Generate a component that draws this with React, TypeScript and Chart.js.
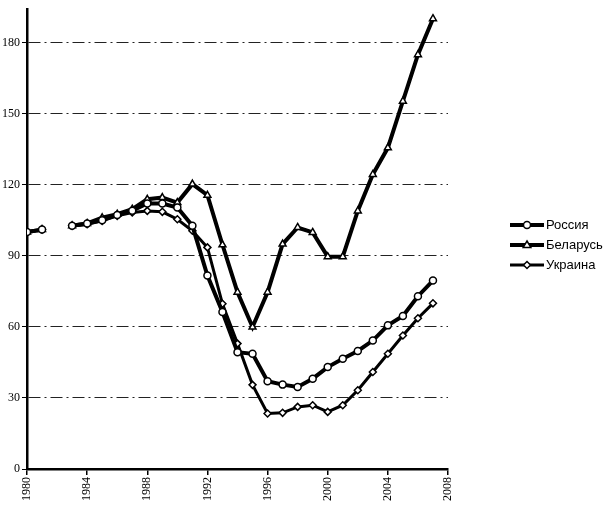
import React, { useEffect, useRef } from "react";
import { Chart, registerables } from "chart.js";

Chart.register(...registerables);

const years = [1980, 1981, 1982, 1983, 1984, 1985, 1986, 1987, 1988, 1989, 1990, 1991, 1992, 1993, 1994, 1995, 1996, 1997, 1998, 1999, 2000, 2001, 2002, 2003, 2004, 2005, 2006, 2007];

const russia: (number | null)[] = [100, 101, null, 102.6, 103.6, 105, 107.2, 109, 112, 112, 110.3, 102.6, 81.6, 66.2, 49.3, 48.6, 37, 35.6, 34.6, 38.1, 43, 46.5, 49.8, 54.2, 60.6, 64.6, 72.9, 79.5];
const belarus: (number | null)[] = [100, 101, null, 102.6, 103.6, 106, 107.5, 109.6, 113.8, 114.5, 112.4, 120.2, 115.5, 94.6, 74.6, 59.9, 74.6, 94.9, 101.9, 99.8, 89.6, 89.6, 108.9, 124.3, 135.5, 155.2, 174.8, 190];
const ukraine: (number | null)[] = [100, 101, null, 102.6, 103.3, 104.7, 106.8, 108.2, 108.9, 108.5, 105.4, 100.5, 93.5, 69.7, 52.9, 35.5, 23.4, 23.7, 26.2, 26.9, 24.1, 26.9, 33.2, 40.9, 48.6, 56.3, 63.6, 69.9];

const seriesNames = ["Россия", "Беларусь", "Украина"];
const xTicks = [1980, 1984, 1988, 1992, 1996, 2000, 2004, 2008];
const yTicks = [0, 30, 60, 90, 120, 150, 180];

function drawMarker(ctx: CanvasRenderingContext2D, style: string, x: number, y: number, r: number) {
  ctx.beginPath();
  if (style === "circle") {
    ctx.arc(x, y, r, 0, Math.PI * 2);
  } else if (style === "triangle") {
    ctx.moveTo(x, y - r);
    ctx.lineTo(x + r * 0.95, y + r * 0.6);
    ctx.lineTo(x - r * 0.95, y + r * 0.6);
    ctx.closePath();
  } else {
    ctx.moveTo(x, y - r);
    ctx.lineTo(x + r, y);
    ctx.lineTo(x, y + r);
    ctx.lineTo(x - r, y);
    ctx.closePath();
  }
  ctx.fillStyle = "#fff";
  ctx.fill();
  ctx.lineWidth = 1.5;
  ctx.strokeStyle = "#000";
  ctx.stroke();
}

const legendPlugin = {
  id: "customLegend",
  afterDraw(chart: any) {
    const ctx: CanvasRenderingContext2D = chart.ctx;
    const x0 = 510;
    const x1 = 544;
    const ys = [225, 245, 265];
    chart.data.datasets.forEach((ds: any, i: number) => {
      const y = ys[i];
      ctx.save();
      ctx.beginPath();
      ctx.moveTo(x0, y);
      ctx.lineTo(x1, y);
      ctx.lineWidth = ds.borderWidth;
      ctx.strokeStyle = "#000";
      ctx.stroke();
      drawMarker(ctx, ds.pointStyle, (x0 + x1) / 2, y, ds.pointRadius);
      ctx.fillStyle = "#000";
      ctx.font = "13px 'Liberation Sans', Arial, sans-serif";
      ctx.textBaseline = "middle";
      ctx.textAlign = "left";
      ctx.fillText(ds.label, x1 + 2, y);
      ctx.restore();
    });
  },
};

export default function App() {
  const ref = useRef<HTMLCanvasElement>(null);
  useEffect(() => {
    document.body.style.margin = "0";
    const toPts = (arr: (number | null)[]) => years.map((y, i) => ({ x: y, y: arr[i] }));
    const chart = new Chart(ref.current!, {
      type: "line",
      data: {
        datasets: [
          {
            label: seriesNames[0],
            data: toPts(russia) as any,
            borderColor: "#000",
            borderWidth: 4,
            pointStyle: "circle",
            pointRadius: 3.5,
            pointBackgroundColor: "#fff",
            pointBorderColor: "#000",
            pointBorderWidth: 1.5,
            spanGaps: false,
          },
          {
            label: seriesNames[1],
            data: toPts(belarus) as any,
            borderColor: "#000",
            borderWidth: 4,
            pointStyle: "triangle",
            pointRadius: 4,
            pointBackgroundColor: "#fff",
            pointBorderColor: "#000",
            pointBorderWidth: 1.5,
            spanGaps: false,
          },
          {
            label: seriesNames[2],
            data: toPts(ukraine) as any,
            borderColor: "#000",
            borderWidth: 3,
            pointStyle: "rectRot",
            pointRadius: 3.5,
            pointBackgroundColor: "#fff",
            pointBorderColor: "#000",
            pointBorderWidth: 1.5,
            spanGaps: false,
          },
        ],
      },
      options: {
        animation: false,
        responsive: false,
        layout: { padding: { left: 0, top: 7, right: 162, bottom: 0 } },
        plugins: { legend: { display: false }, tooltip: { enabled: false } },
        scales: {
          x: {
            type: "linear",
            min: 1980,
            max: 2008,
            afterBuildTicks: (axis: any) => {
              axis.ticks = xTicks.map((v) => ({ value: v }));
            },
            afterFit: (axis: any) => {
              axis.height = 40;
            },
            ticks: {
              minRotation: 90,
              maxRotation: 90,
              color: "#000",
              padding: 2,
              font: { family: "'Liberation Serif', 'Times New Roman', serif", size: 12 },
              callback: (v: any) => String(v),
            },
            grid: { display: true, drawOnChartArea: false, color: "#000", lineWidth: 1.5, tickLength: 6 },
            border: { color: "#000", width: 2.5 },
          },
          y: {
            min: 0,
            max: 194,
            afterBuildTicks: (axis: any) => {
              axis.ticks = yTicks.map((v) => ({ value: v }));
            },
            afterFit: (axis: any) => {
              axis.width = 27;
            },
            ticks: {
              color: "#000",
              padding: 2,
              font: { family: "'Liberation Serif', 'Times New Roman', serif", size: 12 },
            },
            grid: {
              display: true,
              color: (c: any) => (c.tick && c.tick.value === 0 ? "rgba(0,0,0,0)" : "#222"),
              lineWidth: 1,
              tickLength: 5,
              tickColor: "#000",
              tickBorderDash: [],
            } as any,
            border: { color: "#000", width: 2.5, dash: [12, 4, 2, 4] } as any,
          },
        },
      },
      plugins: [legendPlugin],
    });
    return () => chart.destroy();
  }, []);
  return (
    <div style={{ width: 610, height: 509 }}>
      <canvas ref={ref} width={610} height={509} style={{ display: "block" }} />
    </div>
  );
}
